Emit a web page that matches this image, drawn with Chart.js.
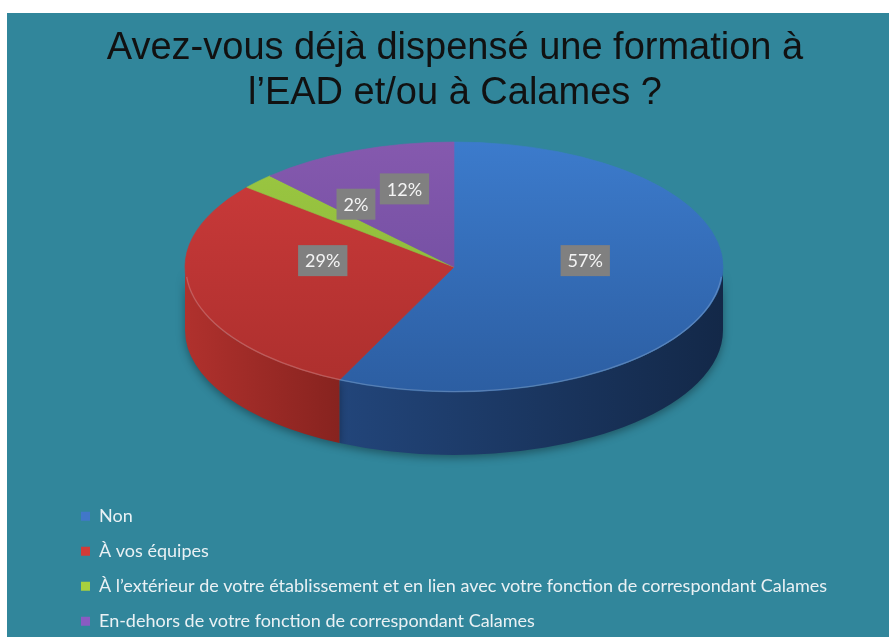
<!DOCTYPE html>
<html>
<head>
<meta charset="utf-8">
<script src="https://cdn.jsdelivr.net/npm/chart.js@4.4.1/dist/chart.umd.min.js"></script>
<style>
  html, body { margin: 0; padding: 0; background: #fff; overflow: hidden; }
  #wrap { position: absolute; left: 7px; top: 13px; width: 882px; height: 760px; background: #31869b; }
</style>
</head>
<body>
<div id="wrap"><canvas id="pie" width="882" height="760"></canvas></div>
<script>
const labels = [
  'Non',
  'À vos équipes',
  'À l’extérieur de votre établissement et en lien avec votre fonction de correspondant Calames',
  'En-dehors de votre fonction de correspondant Calames'
];
const values = [57, 29, 2, 12];

// top face gradient (top -> bottom), side gradient (left -> right), legend swatch
const topColors = [['#3c7bcc', '#2c5ea2'], ['#cd3b3b', '#ac2f2d'], ['#9cc842', '#86b236'], ['#8559ae', '#68499b']];
const sideColors = [['#22457a', '#132848'], ['#b0312d', '#87231f'], ['#7a9e30', '#5f7d24'], ['#5e3f85', '#4a3169']];
const legendColors = ['#4177c9', '#d13b38', '#a8d03e', '#8a5bc2'];

// where the tilted pie sits on the canvas
const CX = 447, CY = 254, RX = 269, RY = 125, DEPTH = 63;

function pieTransform(chart) {
  const el = chart.getDatasetMeta(0).data[0];
  const a = RX / el.outerRadius, d = RY / el.outerRadius;
  return { a, d, e: CX - a * el.x, f: CY - d * el.y };
}

function faceColor(c) {
  const area = c.chart.chartArea;
  const cols = topColors[c.dataIndex];
  if (!area) return cols[0];
  const cy = (area.top + area.bottom) / 2;
  const r = Math.min(area.width, area.height) / 2;
  const g = c.chart.ctx.createLinearGradient(0, cy - r, 0, cy + r);
  g.addColorStop(0, cols[0]);
  g.addColorStop(1, cols[1]);
  return g;
}

const tiltPlugin = {
  id: 'tilt',
  beforeDatasetsDraw(chart) {
    const ctx = chart.ctx;
    const t = pieTransform(chart);
    chart.getDatasetMeta(0).data.forEach((el, i) => {
      const s = Math.max(el.startAngle, 0), e = Math.min(el.endAngle, Math.PI);
      if (e <= s) return;
      ctx.save();
      ctx.transform(t.a, 0, 0, t.d, t.e, t.f);
      ctx.beginPath();
      ctx.arc(el.x, el.y, el.outerRadius, s, e);
      ctx.arc(el.x, el.y + DEPTH / t.d, el.outerRadius, e, s, true);
      ctx.closePath();
      ctx.restore();
      const xa = CX + RX * Math.cos(e), xb = CX + RX * Math.cos(s);
      const g = ctx.createLinearGradient(Math.min(xa, xb), 0, Math.max(xa, xb), 0);
      g.addColorStop(0, sideColors[i][0]);
      g.addColorStop(1, sideColors[i][1]);
      ctx.save();
      ctx.shadowColor = 'rgba(0,0,0,0.35)';
      ctx.shadowBlur = 8;
      ctx.shadowOffsetY = 3;
      ctx.fillStyle = g;
      ctx.fill();
      ctx.restore();
    });
    ctx.save();
    ctx.transform(t.a, 0, 0, t.d, t.e, t.f);
  },
  afterDatasetsDraw(chart) {
    const ctx = chart.ctx;
    ctx.restore();
    const t = pieTransform(chart);
    const meta = chart.getDatasetMeta(0);
    const el0 = meta.data[0];

    // light rim on the front edge
    ctx.save();
    ctx.transform(t.a, 0, 0, t.d, t.e, t.f);
    ctx.beginPath();
    ctx.arc(el0.x, el0.y, el0.outerRadius - 1, 0.08, Math.PI - 0.08);
    ctx.restore();
    ctx.save();
    ctx.strokeStyle = 'rgba(255,255,255,0.2)';
    ctx.lineWidth = 1.2;
    ctx.stroke();
    ctx.restore();

    // percentage labels
    const total = values.reduce((s, v) => s + v, 0);
    ctx.save();
    ctx.font = '18px Lato';
    ctx.textAlign = 'center';
    ctx.textBaseline = 'middle';
    meta.data.forEach((el, i) => {
      const mid = (el.startAngle + el.endAngle) / 2;
      const px = el.x + Math.cos(mid) * el.outerRadius * 0.5;
      const py = el.y + Math.sin(mid) * el.outerRadius * 0.5;
      const x = t.a * px + t.e;
      const y = t.d * py + t.f - 20;
      const txt = Math.round(values[i] / total * 100) + '%';
      const w = ctx.measureText(txt).width + 14;
      ctx.fillStyle = '#808080';
      ctx.fillRect(x - w / 2, y - 15.5, w, 31);
      ctx.fillStyle = '#f4f4f4';
      ctx.fillText(txt, x, y + 1);
    });
    ctx.restore();
  }
};

new Chart(document.getElementById('pie'), {
  type: 'pie',
  data: {
    labels: labels,
    datasets: [{
      data: values,
      backgroundColor: faceColor,
      borderColor: faceColor,
      borderWidth: 1,
      clip: false
    }]
  },
  options: {
    responsive: false,
    animation: false,
    events: [],
    layout: { padding: { left: 57, right: 43, top: 0, bottom: 13 } },
    plugins: {
      tooltip: { enabled: false },
      title: {
        display: true,
        text: ['Avez-vous déjà dispensé une formation à', 'l’EAD et/ou à Calames ?'],
        color: '#111111',
        font: { family: 'Liberation Sans', size: 38, weight: 'normal', lineHeight: 1.18 },
        padding: { top: 13, bottom: 10 }
      },
      legend: {
        position: 'chartArea',
        align: 'end',
        labels: {
          boxWidth: 9,
          boxHeight: 9,
          padding: 17,
          color: '#eaf1f4',
          font: { family: 'Lato', size: 18 },
          generateLabels: () => labels.map((text, i) => ({
            text: text,
            fillStyle: legendColors[i],
            strokeStyle: legendColors[i],
            lineWidth: 0,
            fontColor: '#eaf1f4',
            hidden: false,
            index: i
          }))
        }
      }
    }
  },
  plugins: [tiltPlugin]
});
</script>
</body>
</html>
